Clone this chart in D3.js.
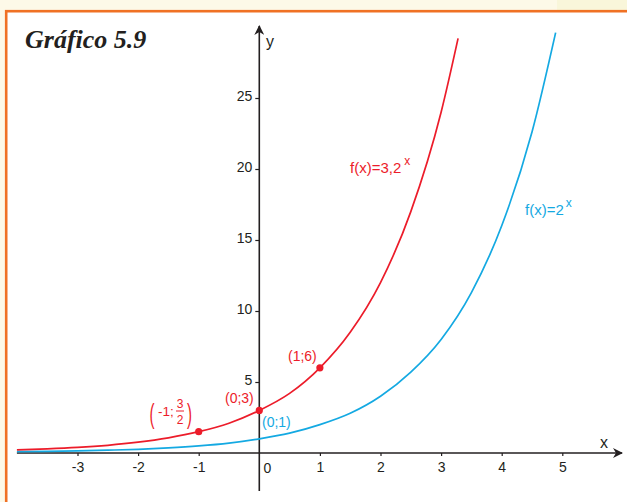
<!DOCTYPE html>
<html>
<head>
<meta charset="utf-8">
<script src="https://cdn.jsdelivr.net/npm/d3@7/dist/d3.min.js"></script>
<style>
  html, body { margin: 0; padding: 0; background: #fdf9e8; }
  svg { display: block; }
  .tick text { font-family: "Liberation Sans", Arial, sans-serif; font-size: 14px; fill: #231f20; }
</style>
</head>
<body>
<svg id="chart" width="627" height="502"></svg>
<script>
// ---- data ----
const xTickValues = [-3, -2, -1, 0, 1, 2, 3, 4, 5];
const yTickValues = [5, 10, 15, 20, 25];

const redX = [-4, -3.5, -3, -2.5, -2, -1.5, -1, -0.5, 0, 0.5, 1, 1.5, 2, 2.5, 3, 3.28];
const redY = [0.22, 0.29, 0.39, 0.54, 0.76, 1.07, 1.5, 2.1, 3, 4.2, 6, 8.5, 12, 17, 24, 29.2];

const blueX = [-4, -3.5, -3, -2.5, -2, -1.5, -1, -0.5, 0, 0.5, 1, 1.5, 2, 2.5, 3, 3.5, 4, 4.5, 4.89];
const blueY = [0.1, 0.12, 0.15, 0.2, 0.26, 0.36, 0.5, 0.7, 1, 1.4, 2, 2.8, 4, 5.7, 8, 11.3, 16, 22.6, 29.6];

const redPointX = [-1, 0, 1];
const redPointY = [1.5, 3, 6];

const titleText = "Gráfico 5.9";

// ---- layout ----
const W = 627, H = 502;
const red = "#ec1c2a", blue = "#14a9e2", ink = "#231f20";

const svg = d3.select("#chart");

// backgrounds / frame
svg.append("rect").attr("x", 0).attr("y", 0).attr("width", W).attr("height", H).attr("fill", "#fdf9e8");
svg.append("rect").attr("x", 557).attr("y", 0).attr("width", 70).attr("height", 11).attr("fill", "#f9f6da");
svg.append("rect").attr("x", 6.2).attr("y", 11.2).attr("width", W + 10).attr("height", H + 10)
  .attr("fill", "#ffffff").attr("stroke", "#f07124").attr("stroke-width", 2.6);

// scales
const x = d3.scaleLinear().domain([-4, 5]).range([16.9, 562.3]);
const y = d3.scaleLinear().domain([0, 25]).range([453, 98]);

// title
svg.append("text").attr("x", 25).attr("y", 48)
  .attr("font-family", "'Liberation Serif', 'Times New Roman', serif")
  .attr("font-weight", "bold").attr("font-style", "italic")
  .attr("font-size", 26).attr("fill", ink).text(titleText);

// arrow marker
const defs = svg.append("defs");
defs.append("marker").attr("id", "arrow").attr("viewBox", "0 0 10 10")
  .attr("refX", 9).attr("refY", 5).attr("markerWidth", 10).attr("markerHeight", 10)
  .attr("markerUnits", "userSpaceOnUse").attr("orient", "auto")
  .append("path").attr("d", "M0,0 L10,5 L0,10 L3,5 Z").attr("fill", ink);

// x axis
const xAxis = d3.axisBottom(x).tickValues(xTickValues.filter(d => d !== 0))
  .tickSize(3).tickPadding(6).tickFormat(d3.format("d"));
const gx = svg.append("g").attr("transform", `translate(0,${y(0)})`).call(xAxis);
gx.select(".domain").remove();
gx.selectAll(".tick line").attr("stroke", ink).attr("stroke-width", 1.2);
gx.selectAll(".tick text").attr("fill", ink).text(d => d < 0 ? "-" + Math.abs(d) : d);
// zero label (placed right of the y axis)
svg.append("text").attr("x", x(0) + 8).attr("y", y(0) + 20)
  .attr("text-anchor", "middle")
  .attr("font-family", "'Liberation Sans', Arial, sans-serif").attr("font-size", 14)
  .attr("fill", ink).text("0");

svg.append("line").attr("x1", x(-4)).attr("x2", 622).attr("y1", y(0)).attr("y2", y(0))
  .attr("stroke", ink).attr("stroke-width", 1.6).attr("marker-end", "url(#arrow)");
svg.append("text").attr("x", 604).attr("y", 448).attr("text-anchor", "middle")
  .attr("font-family", "'Liberation Sans', Arial, sans-serif").attr("font-size", 16)
  .attr("fill", ink).text("x");

// y axis
const yAxis = d3.axisLeft(y).tickValues(yTickValues).tickSize(4).tickPadding(3);
const gy = svg.append("g").attr("transform", `translate(${x(0)},0)`).call(yAxis);
gy.select(".domain").remove();
gy.selectAll(".tick line").attr("stroke", ink).attr("stroke-width", 1.2);
gy.selectAll(".tick text").attr("fill", ink).attr("dy", "0.2em");

svg.append("line").attr("x1", x(0)).attr("x2", x(0)).attr("y1", 491).attr("y2", 26)
  .attr("stroke", ink).attr("stroke-width", 1.6).attr("marker-end", "url(#arrow)");
svg.append("text").attr("x", 270).attr("y", 47).attr("text-anchor", "middle")
  .attr("font-family", "'Liberation Sans', Arial, sans-serif").attr("font-size", 16)
  .attr("fill", ink).text("y");

// curves
const line = d3.line().x(d => x(d[0])).y(d => y(d[1])).curve(d3.curveMonotoneX);
svg.append("path").datum(blueX.map((v, i) => [v, blueY[i]]))
  .attr("d", line).attr("fill", "none").attr("stroke", blue).attr("stroke-width", 1.7);
svg.append("path").datum(redX.map((v, i) => [v, redY[i]]))
  .attr("d", line).attr("fill", "none").attr("stroke", red).attr("stroke-width", 1.7);

// points
svg.selectAll(".pt").data(redPointX.map((v, i) => [v, redPointY[i]])).join("circle")
  .attr("class", "pt").attr("cx", d => x(d[0])).attr("cy", d => y(d[1]))
  .attr("r", 3.6).attr("fill", red);

// labels
const lab = (tx, ty, txt, col, size, anchor) => svg.append("text").attr("x", tx).attr("y", ty)
  .attr("text-anchor", anchor || "start")
  .attr("font-family", "'Liberation Sans', Arial, sans-serif").attr("font-size", size || 14)
  .attr("fill", col).text(txt);

lab(288, 361, "(1;6)", red);
lab(225, 403, "(0;3)", red);
lab(262, 427, "(0;1)", blue);

// (-1; 3/2)
svg.append("text").attr("x", 149.5).attr("y", 423)
  .attr("font-family", "'Liberation Sans', Arial, sans-serif").attr("font-size", 28)
  .attr("fill", red)
  .attr("textLength", 5).attr("lengthAdjust", "spacingAndGlyphs").text("(");
lab(158, 416, "-1;", red, 13.5);
lab(180, 408, "3", red, 12, "middle");
svg.append("line").attr("x1", 176).attr("x2", 184).attr("y1", 411).attr("y2", 411)
  .attr("stroke", red).attr("stroke-width", 1);
lab(180, 424, "2", red, 12, "middle");
svg.append("text").attr("x", 187).attr("y", 423)
  .attr("font-family", "'Liberation Sans', Arial, sans-serif").attr("font-size", 28)
  .attr("fill", red).attr("textLength", 5).attr("lengthAdjust", "spacingAndGlyphs").text(")");

// function labels
const fr = svg.append("text").attr("x", 350).attr("y", 173)
  .attr("font-family", "'Liberation Sans', Arial, sans-serif").attr("font-size", 15).attr("fill", red);
fr.append("tspan").text("f(x)=3,2");
fr.append("tspan").attr("dx", 3).attr("dy", -8).attr("font-size", 12).text("x");

const fb = svg.append("text").attr("x", 525).attr("y", 215)
  .attr("font-family", "'Liberation Sans', Arial, sans-serif").attr("font-size", 15).attr("fill", blue);
fb.append("tspan").text("f(x)=2");
fb.append("tspan").attr("dx", 2).attr("dy", -8).attr("font-size", 12).text("x");
</script>
</body>
</html>
